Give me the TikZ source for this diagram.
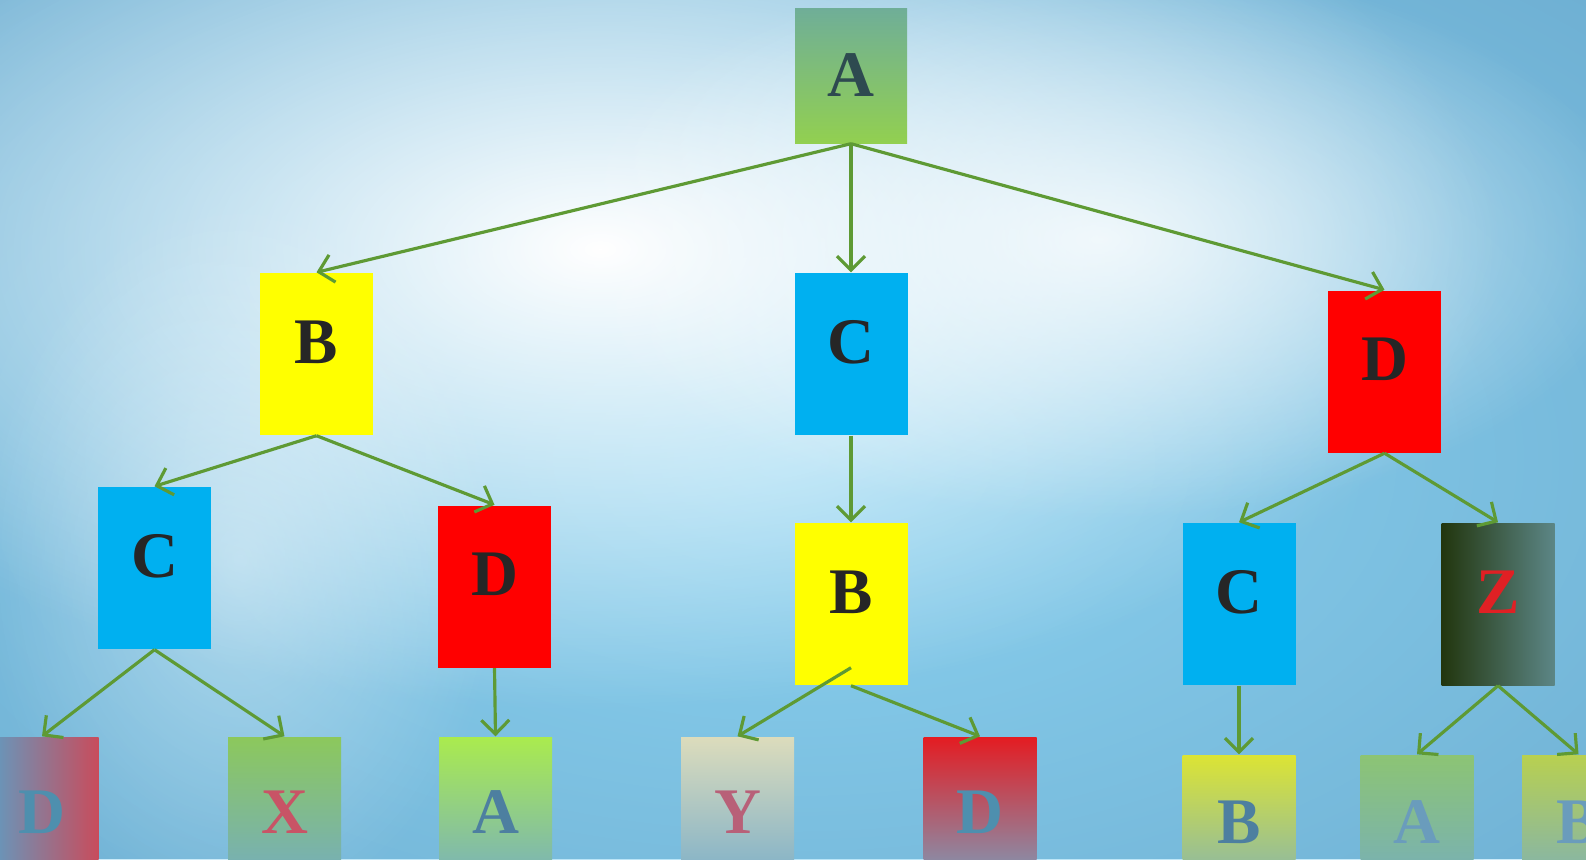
\documentclass[tikz,border=0pt]{standalone}
\usepackage{fontspec}
\setmainfont{Liberation Serif}
\usetikzlibrary{arrows.meta,fadings}
\definecolor{bgblue}{HTML}{5F9DC3}
\definecolor{skyblue}{HTML}{8CD3F1}
\definecolor{linkgreen}{HTML}{5E9A34}
\definecolor{boxyellow}{HTML}{FFFF00}
\definecolor{boxblue}{HTML}{00B0F0}
\definecolor{boxred}{HTML}{FF0000}
\definecolor{letterdark}{HTML}{262626}
\definecolor{fadeblue}{HTML}{72AACA}
\definecolor{topteal}{HTML}{6FAE98}
\definecolor{topgreen}{HTML}{92D050}
\definecolor{toptext}{HTML}{2E4A50}
\definecolor{zleft}{HTML}{22360E}
\definecolor{zmid}{HTML}{2B4318}
\definecolor{zright}{HTML}{5C8686}
\definecolor{zred}{HTML}{E02024}
\definecolor{fadered}{HTML}{C84C5C}
\definecolor{fadegreen}{HTML}{8CC85C}
\definecolor{limegreen}{HTML}{AAEB4E}
\definecolor{paleyellow}{HTML}{DCDCBC}
\definecolor{deepred}{HTML}{E41C22}
\definecolor{rosered}{HTML}{B86078}
\definecolor{mustard}{HTML}{DCE434}
\definecolor{sagegreen}{HTML}{8CC474}
\definecolor{faintyellow}{HTML}{B8D050}
\definecolor{textteal}{HTML}{4E8FAE}
\definecolor{textrose}{HTML}{C85466}
\definecolor{textslate}{HTML}{4D7FA0}
\definecolor{textmist}{HTML}{6A9CBC}
\tikzfading[name=glow, inner color=transparent!0, outer color=transparent!100]

\begin{document}
\begin{tikzpicture}[
  box/.style={minimum width=1.13cm, minimum height=1.62cm, inner sep=0pt, text depth=0.24cm,
    font=\fontsize{18.5}{20}\selectfont\bfseries, text=letterdark},
  lowbox/.style={box, text depth=0.12cm},
  link/.style={linkgreen, line width=0.9pt, -{Straight Barb[length=1.4mm,width=2.8mm]}}
]
\clip (0,0) rectangle (15.86,8.59);
% background
\fill[bgblue] (0,0) rectangle (15.86,8.59);
\fill[skyblue, path fading=glow] (7.9,4.0) ellipse (18 and 10);
\fill[white, path fading=glow] (6.0,6.1) ellipse (9 and 4.6);
\fill[white, fill opacity=0.8, path fading=glow] (11.0,6.2) ellipse (5.4 and 2.8);
\fill[white, fill opacity=0.4, path fading=glow] (2.4,3.0) ellipse (2.6 and 3.6);

% top
\node[box, minimum width=1.12cm, minimum height=1.35cm, text depth=0pt, text=toptext,
  top color=topteal, bottom color=topgreen] (a) at (8.51, 7.835) {A};

% second row
\node[box, fill=boxyellow] (b1) at (3.165, 5.05) {B};
\node[box, fill=boxblue] (c1) at (8.51, 5.05) {C};
\node[box, fill=boxred] (d1) at (13.845, 4.875) {D};

% third row
\node[box, fill=boxblue] (c2) at (1.545, 2.91) {C};
\node[box, fill=boxred] (d2) at (4.945, 2.725) {D};
\node[box, fill=boxyellow] (b2) at (8.51, 2.55) {B};
\node[box, fill=boxblue] (c3) at (12.39, 2.55) {C};
\node[box, text=zred, left color=zleft, middle color=zmid, right color=zright] (z) at (14.98, 2.55) {Z};

% bottom row, fading out
\node[lowbox, text=textteal, left color=bgblue, right color=fadered] (d3) at (0.42, 0.41) {D};
\node[lowbox, text=textrose, top color=fadegreen, bottom color=fadeblue] (x) at (2.845, 0.41) {X};
\node[lowbox, text=textslate, top color=limegreen, bottom color=fadeblue] (a2) at (4.955, 0.41) {A};
\node[lowbox, text=rosered, top color=paleyellow, bottom color=fadeblue] (y) at (7.375, 0.41) {Y};
\node[lowbox, text=textteal, top color=deepred, middle color=rosered, bottom color=fadeblue] (d4) at (9.80, 0.41) {D};
\node[lowbox, text depth=0.27cm, text=textslate, top color=mustard, bottom color=fadeblue] (b3) at (12.39, 0.23) {B};
\node[lowbox, text depth=0.27cm, text=textmist, top color=sagegreen, bottom color=fadeblue] (a3) at (14.17, 0.23) {A};
\node[lowbox, text depth=0.27cm, text=textmist, top color=faintyellow, bottom color=fadeblue] (b4) at (15.785, 0.23) {B};

% links
\draw[link] (a.south) -- (b1.north);
\draw[link] (a.south) -- (c1.north);
\draw[link] (a.south) -- (d1.north);
\draw[link] (b1.south) -- (c2.north);
\draw[link] (b1.south) -- (d2.north);
\draw[link] (c1.south) -- (b2.north);
\draw[link] (d1.south) -- (c3.north);
\draw[link] (d1.south) -- (z.north);
\draw[link] (c2.south) -- (d3.north);
\draw[link] (c2.south) -- (x.north);
\draw[link] (d2.south) -- (a2.north);
\draw[link] ([yshift=0.18cm]b2.south) -- (y.north);
\draw[link] (b2.south) -- (d4.north);
\draw[link] (c3.south) -- (b3.north);
\draw[link] (z.south) -- (a3.north);
\draw[link] (z.south) -- (b4.north);
\end{tikzpicture}
\end{document}
